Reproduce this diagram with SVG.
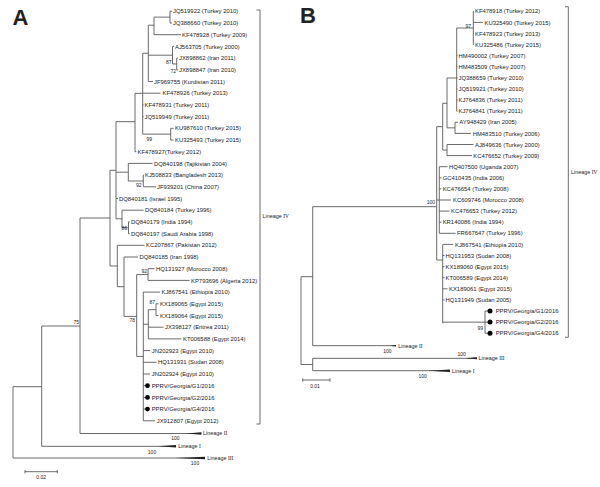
<svg xmlns="http://www.w3.org/2000/svg" width="600" height="487" viewBox="0 0 600 487">
<style>
.br{fill:none;stroke:#5a5a5a;stroke-width:0.9}
.wd{fill:#222;stroke:none}
text{font-family:"Liberation Sans",Arial,sans-serif;fill:#222}
.lf{font-size:5.9px}
.bs{font-size:5px}
.bse{font-size:5px;text-anchor:end}
.bsm{font-size:5px;text-anchor:middle}
.lg{font-size:5.4px}
.rn{font-family:"Liberation Serif","Times New Roman",serif}
.pl{font-size:22px;font-weight:bold}
</style>
<rect width="600" height="487" fill="#fff"/>
<text class="pl" x="12.5" y="24.5">A</text>
<text class="pl" x="300" y="22.7">B</text>
<g id="connectors">
<path class="br" d="M13 386.7V458M13 458H200M13 386.7H41.7M41.7 326V446.3M41.7 446.3H175M41.7 326H80M80 218V433.5M80 433.5H200M80 218H110M110 170.3V266M110 170.3H116M116 121.7V218.8M116 121.7H135M135 93.3V151.7M135 151.7H136.3M135 93.3H142.7M142.7 53.3V134.15M142.7 53.3H148.3M148.3 25.2V81.5M148.3 25.2H154M154 17.15V34.7M154 17.15H170M170 11.3V23M170 11.3H172M170 23H172M154 34.7H181M148.3 55.2H172.5M172.5 46.4V63.95M172.5 46.4H174M172.5 63.95H176.7M176.7 58.1V69.8M176.7 58.1H178M176.7 69.8H178M148.3 81.5H153M142.7 93.2H160.5M142.7 104.9H143.5M142.7 116.6H143.5M142.7 134.15H170.7M170.7 128.3V140M170.7 128.3H173.5M170.7 140H173.5M116 172.2H128.3M128.3 163.4V181M128.3 163.4H152.5M128.3 181H143.3M143.3 175.1V186.8M143.3 175.1H144M143.3 186.8H156M116 198.5H118M116 218.8H122M122 210.2V227.75M122 210.2H143.5M122 227.75H128.5M128.5 221.9V233.6M128.5 221.9H129.8M128.5 233.6H129.8M110 266H117.3M117.3 245.3V286.7M117.3 245.3H144.5M117.3 286.7H124M124 257V316.4M124 257H138M124 316.4H136.7M136.7 274.55V356.45M136.7 274.55H148M148 268.7V280.4M148 268.7H154.5M148 280.4H189.5M136.7 356.45H143.3M143.3 292.1V420.8M143.3 292.1H160M143.3 324.3H148.3M148.3 309.65V338.9M148.3 309.65H156M156 303.8V315.5M156 303.8H158.5M156 315.5H158.5M148.3 327.2H163.5M148.3 338.9H181.5M143.3 350.6H150M143.3 362.3H156.5M143.3 374H150M143.3 385.7H146M143.3 397.4H146M143.3 409.1H146M143.3 420.8H155"/>
<polygon class="wd" points="175,458 205,456.8 205,459.2"/>
<polygon class="wd" points="158,446.3 176,445.1 176,447.5"/>
<polygon class="wd" points="186,433.5 201.5,432.3 201.5,434.7"/>
<path class="br" d="M256.5 10H260V424H256.5"/>
<path class="br" d="M25 471.7H57.3M25 470V473.4M57.3 470V473.4"/>
<path class="br" d="M301 276.7V364.5M301 276.7H312.7M312.7 206.7V345.7M312.7 206.7H436.7M312.7 345.7H395M301 364.5H312.7M312.7 358.3V370.7M312.7 358.3H476.7M312.7 370.7H450M436.7 126.7V260M436.7 126.7H442.7M442.7 103.3V150.05M442.7 103.3H447M447 78V127.85M447 78H456.7M456.7 28V111.2M456.7 28H473.3M473.3 11.3V44.6M473.3 11.3H474M473.3 22.4H483M473.3 33.5H474M473.3 44.6H474M456.7 55.7H457.5M456.7 66.8H457.5M456.7 77.9H457.5M456.7 89H457.5M456.7 100.1H457.5M456.7 111.2H457.5M447 127.85H455M455 122.3V133.4M455 122.3H458M455 133.4H471M442.7 150.05H447M447 144.5V155.6M447 144.5H473.5M447 155.6H472M436.7 200H439.3M439.3 166.7V233.3M439.3 166.7H447.5M439.3 177.8H441.5M439.3 188.9H441.5M439.3 200H451M439.3 211.1H449.5M439.3 222.2H441.5M439.3 233.3H455.5M436.7 260H442.7M442.7 244.4V323.3M442.7 244.4H453M442.7 255.5H444.5M442.7 266.6H444.5M442.7 277.7H444.5M442.7 288.8H447.5M442.7 299.9H444.5M442.7 322.15H485M485 311V333.2M485 311H488M485 322.1H488M485 333.2H488"/>
<polygon class="wd" points="390,345.7 396,344.9 396,346.5"/>
<polygon class="wd" points="465,358.3 477,357.3 477,359.3"/>
<polygon class="wd" points="428,370.7 450,369.5 450,371.9"/>
<path class="br" d="M565 6.7H568.3V337.3H565"/>
<path class="br" d="M302.7 380H330M302.7 378.3V381.7M330 378.3V381.7"/>
</g>
<g id="bootstrapA">
<text class="bse" x="171.5" y="63.5">87</text>
<text class="bse" x="176" y="72.8">72</text>
<text class="bse" x="152" y="141.1">99</text>
<text class="bse" x="141.5" y="187.3">92</text>
<text class="bse" x="127" y="230.3">86</text>
<text class="bse" x="79" y="323.5">75</text>
<text class="bse" x="147" y="272.5">92</text>
<text class="bse" x="135" y="321.8">78</text>
<text class="bse" x="155" y="303.8">87</text>
<text class="bsm" x="175.3" y="440.1">100</text>
<text class="bsm" x="152" y="453.5">100</text>
<text class="bsm" x="195" y="465.1">100</text>
<text class="bsm" x="41.2" y="478.5">0.02</text>
</g>
<g id="leavesA" class="lf">
<g id="a0"><text x="173" y="13.4">JQ519922 (Turkey 2010)</text></g>
<g id="a1"><text x="173" y="25.1">JQ388660 (Turkey 2010)</text></g>
<g id="a2"><text x="182" y="36.8">KF478928 (Turkey 2009)</text></g>
<g id="a3"><text x="175" y="48.5">AJ563705 (Turkey 2000)</text></g>
<g id="a4"><text x="179" y="60.2">JX898862 (Iran 2011)</text></g>
<g id="a5"><text x="179" y="71.9">JX898847 (Iran 2010)</text></g>
<g id="a6"><text x="154" y="83.6">JF969755 (Kurdistan 2011)</text></g>
<g id="a7"><text x="162.5" y="95.3">KF478926 (Turkey 2013)</text></g>
<g id="a8"><text x="144.5" y="107">KF478931 (Turkey 2011)</text></g>
<g id="a9"><text x="144.5" y="118.7">JQ519949 (Turkey 2011)</text></g>
<g id="a10"><text x="175" y="130.4">KU987610 (Turkey 2015)</text></g>
<g id="a11"><text x="175" y="142.1">KU325493 (Turkey 2015)</text></g>
<g id="a12"><text x="137.5" y="153.8">KF478927(Turkey 2012)</text></g>
<g id="a13"><text x="154" y="165.5">DQ840198 (Tajikistan 2004)</text></g>
<g id="a14"><text x="145" y="177.2">KJ508833 (Bangladesh 2013)</text></g>
<g id="a15"><text x="157" y="188.9">JF939201 (China 2007)</text></g>
<g id="a16"><text x="119" y="200.6">DQ840181 (Israel 1995)</text></g>
<g id="a17"><text x="145" y="212.3">DQ840184 (Turkey 1996)</text></g>
<g id="a18"><text x="131" y="224">DQ840179 (India 1994)</text></g>
<g id="a19"><text x="131" y="235.7">DQ840197 (Saudi Arabia 1998)</text></g>
<g id="a20"><text x="146" y="247.4">KC207867 (Pakistan 2012)</text></g>
<g id="a21"><text x="139.5" y="259.1">DQ840185 (Iran 1998)</text></g>
<g id="a22"><text x="156" y="270.8">HQ131927 (Morocco 2008)</text></g>
<g id="a23"><text x="191" y="282.5">KP793696 (Algeria 2012)</text></g>
<g id="a24"><text x="161.5" y="294.2">KJ867541 (Ethiopia 2010)</text></g>
<g id="a25"><text x="160" y="305.9">KX189065 (Egypt 2015)</text></g>
<g id="a26"><text x="160" y="317.6">KX189064 (Egypt 2015)</text></g>
<g id="a27"><text x="165" y="329.3">JX398127 (Eritrea 2011)</text></g>
<g id="a28"><text x="183" y="341">KT006588 (Egypt 2014)</text></g>
<g id="a29"><text x="151.7" y="352.7">JN202923 (Egypt 2010)</text></g>
<g id="a30"><text x="158" y="364.4">HQ131931 (Sudan 2008)</text></g>
<g id="a31"><text x="151.7" y="376.1">JN202924 (Egypt 2010)</text></g>
<g id="a32"><circle cx="147.5" cy="385.7" r="2.4" fill="#000"/><text x="151.7" y="387.8">PPRV/Georgia/G1/2016</text></g>
<g id="a33"><circle cx="147.5" cy="397.4" r="2.4" fill="#000"/><text x="151.7" y="399.5">PPRV/Georgia/G2/2016</text></g>
<g id="a34"><circle cx="147.5" cy="409.1" r="2.4" fill="#000"/><text x="151.7" y="411.2">PPRV/Georgia/G4/2016</text></g>
<g id="a35"><text x="156.7" y="422.9">JX912807 (Egypt 2012)</text></g>
<g id="aL2"><text class="lg" x="203" y="435.4">Lineage <tspan class="rn">II</tspan></text></g>
<g id="aL1"><text class="lg" x="178.3" y="448.2">Lineage <tspan class="rn">I</tspan></text></g>
<g id="aL3"><text class="lg" x="207.3" y="460">Lineage <tspan class="rn">III</tspan></text></g>
<g id="aL4"><text class="lg" x="262.5" y="218">Lineage <tspan class="rn">IV</tspan></text></g>
</g>
<g id="bootstrapB">
<text class="bse" x="471" y="27.5">97</text>
<text class="bse" x="435" y="204.1">100</text>
<text class="bse" x="483" y="330.1">99</text>
<text class="bsm" x="387.3" y="352.8">100</text>
<text class="bsm" x="461.7" y="356.1">100</text>
<text class="bsm" x="422.7" y="377.8">100</text>
<text class="bsm" x="315" y="387.8">0.01</text>
</g>
<g id="leavesB" class="lf">
<g id="b0"><text x="475" y="13.4">KF478918 (Turkey 2012)</text></g>
<g id="b1"><text x="484.5" y="24.5">KU325490 (Turkey 2015)</text></g>
<g id="b2"><text x="475" y="35.6">KF478923 (Turkey 2013)</text></g>
<g id="b3"><text x="475" y="46.7">KU325486 (Turkey 2015)</text></g>
<g id="b4"><text x="458.5" y="57.8">HM490002 (Turkey 2007)</text></g>
<g id="b5"><text x="458.5" y="68.9">HM483509 (Turkey 2007)</text></g>
<g id="b6"><text x="458.5" y="80">JQ388659 (Turkey 2010)</text></g>
<g id="b7"><text x="458.5" y="91.1">JQ519921 (Turkey 2010)</text></g>
<g id="b8"><text x="458.5" y="102.2">KJ764836 (Turkey 2011)</text></g>
<g id="b9"><text x="458.5" y="113.3">KJ764841 (Turkey 2011)</text></g>
<g id="b10"><text x="459.3" y="124.4">AY948429 (Iran 2005)</text></g>
<g id="b11"><text x="472.7" y="135.5">HM483510 (Turkey 2006)</text></g>
<g id="b12"><text x="475" y="146.6">AJ849636 (Turkey 2000)</text></g>
<g id="b13"><text x="473.3" y="157.7">KC476652 (Turkey 2009)</text></g>
<g id="b14"><text x="449" y="168.8">HQ407500 (Uganda 2007)</text></g>
<g id="b15"><text x="442.7" y="179.9">GC410435 (India 2006)</text></g>
<g id="b16"><text x="442.7" y="191">KC476654 (Turkey 2008)</text></g>
<g id="b17"><text x="453" y="202.1">KC609746 (Morocco 2008)</text></g>
<g id="b18"><text x="451" y="213.2">KC476653 (Turkey 2012)</text></g>
<g id="b19"><text x="442.7" y="224.3">KR140086 (India 1994)</text></g>
<g id="b20"><text x="457" y="235.4">FR667647 (Turkey 1996)</text></g>
<g id="b21"><text x="455" y="246.5">KJ867541 (Ethiopia 2010)</text></g>
<g id="b22"><text x="445.5" y="257.6">HQ131953 (Sudan 2008)</text></g>
<g id="b23"><text x="445.5" y="268.7">KX189060 (Egypt 2015)</text></g>
<g id="b24"><text x="445.5" y="279.8">KT006589 (Egypt 2014)</text></g>
<g id="b25"><text x="449" y="290.9">KX189061 (Egypt 2015)</text></g>
<g id="b26"><text x="445.5" y="302">HQ131949 (Sudan 2005)</text></g>
<g id="b27"><circle cx="490" cy="311" r="2.5" fill="#000"/><text x="495.7" y="313.1">PPRV/Georgia/G1/2016</text></g>
<g id="b28"><circle cx="490" cy="322.1" r="2.5" fill="#000"/><text x="495.7" y="324.2">PPRV/Georgia/G2/2016</text></g>
<g id="b29"><circle cx="490" cy="333.2" r="2.5" fill="#000"/><text x="495.7" y="335.3">PPRV/Georgia/G4/2016</text></g>
<g id="bL2"><text class="lg" x="398.3" y="347.6">Lineage <tspan class="rn">II</tspan></text></g>
<g id="bL3"><text class="lg" x="478.5" y="360.2">Lineage <tspan class="rn">III</tspan></text></g>
<g id="bL1"><text class="lg" x="452" y="372.6">Lineage <tspan class="rn">I</tspan></text></g>
<g id="bL4"><text class="lg" x="571" y="174">Lineage <tspan class="rn">IV</tspan></text></g>
</g>
</svg>
